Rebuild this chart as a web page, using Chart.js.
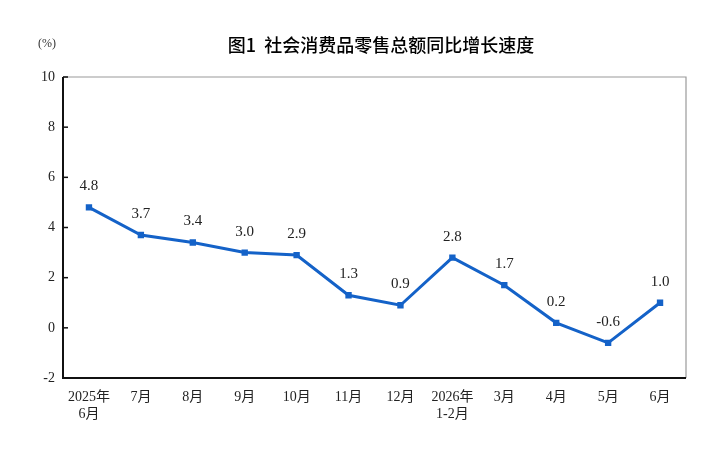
<!DOCTYPE html>
<html>
<head>
<meta charset="utf-8">
<script src="https://cdn.jsdelivr.net/npm/chart.js@4/dist/chart.umd.min.js"></script>
<style>
  html, body { margin: 0; padding: 0; background: #fff; }
  #wrap { width: 720px; height: 450px; }
</style>
</head>
<body>
<div id="wrap"><canvas id="chart"></canvas></div>
<script>
(() => {
  'use strict'
  // données
  const months = [['2025年', '6月'], '7月', '8月', '9月', '10月', '11月', '12月', ['2026年', '1-2月'], '3月', '4月', '5月', '6月'];
  const growth = [4.8, 3.7, 3.4, 3.0, 2.9, 1.3, 0.9, 2.8, 1.7, 0.2, -0.6, 1.0];
  const yTicks = [-2, 0, 2, 4, 6, 8, 10];

  const blue = '#1462c8';
  const serif = '"Liberation Serif", "Noto Sans CJK SC", serif';

  // titre, unité, cadre, petits traits de graduation et étiquettes de valeurs
  const decor = {
    id: 'decor',
    afterDraw(chart) {
      const { ctx, chartArea: a, scales } = chart;
      ctx.save();
      ctx.fillStyle = '#000';
      ctx.font = '500 18px "Noto Sans CJK SC", sans-serif';
      ctx.textAlign = 'center';
      ctx.textBaseline = 'middle';
      ctx.fillText('图1  社会消费品零售总额同比增长速度', 381, 45);
      ctx.font = '12px ' + serif;
      ctx.fillStyle = '#333';
      ctx.fillText('(%)', 47, 44);

      // cadre
      ctx.strokeStyle = '#9a9a9a';
      ctx.lineWidth = 1.2;
      ctx.beginPath();
      ctx.moveTo(a.left, a.top);
      ctx.lineTo(a.right, a.top);
      ctx.lineTo(a.right, a.bottom);
      ctx.stroke();
      ctx.strokeStyle = '#111';
      ctx.lineWidth = 2;
      ctx.beginPath();
      ctx.moveTo(a.left, a.top);
      ctx.lineTo(a.left, a.bottom);
      ctx.lineTo(a.right, a.bottom);
      ctx.stroke();
      ctx.lineWidth = 1.5;
      yTicks.forEach(v => {
        const y = scales.y.getPixelForValue(v);
        ctx.beginPath();
        ctx.moveTo(a.left, y);
        ctx.lineTo(a.left + 5, y);
        ctx.stroke();
      });

      // valeurs au-dessus des points
      ctx.font = '15px ' + serif;
      ctx.fillStyle = '#222';
      chart.getDatasetMeta(0).data.forEach((pt, i) => {
        ctx.fillText(growth[i].toFixed(1), pt.x, pt.y - 21);
      });
      ctx.restore();
    }
  };

  new Chart(document.getElementById('chart'), {
    type: 'line',
    data: {
      labels: months,
      datasets: [{
        data: growth,
        borderColor: blue,
        backgroundColor: blue,
        borderWidth: 3,
        tension: 0,
        pointStyle: 'rect',
        pointRadius: 4.5,
        pointBackgroundColor: blue,
        pointBorderWidth: 0
      }]
    },
    options: {
      responsive: true,
      maintainAspectRatio: false,
      animation: false,
      layout: { padding: { top: 77, right: 34, bottom: 0, left: 0 } },
      plugins: {
        legend: { display: false },
        tooltip: { enabled: false }
      },
      scales: {
        x: {
          offset: true,
          grid: { display: false, drawTicks: false },
          border: { display: false },
          ticks: {
            color: '#222',
            font: { family: serif, size: 14 },
            padding: 11,
            maxRotation: 0,
            autoSkip: false
          },
          afterFit(scale) { scale.height = 72; }
        },
        y: {
          min: -2,
          max: 10,
          grid: { display: false, drawTicks: false },
          border: { display: false },
          afterBuildTicks(scale) { scale.ticks = yTicks.map(v => ({ value: v })); },
          ticks: {
            color: '#222',
            font: { family: serif, size: 14 },
            padding: 8
          },
          afterFit(scale) { scale.width = 63; }
        }
      }
    },
    plugins: [decor]
  });
})();
</script>
</body>
</html>
